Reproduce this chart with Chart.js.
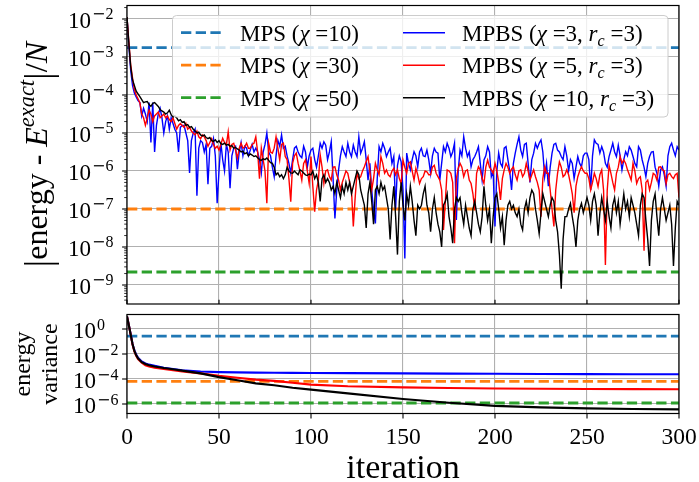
<!DOCTYPE html>
<html>
<head>
<meta charset="utf-8">
<script src="https://cdn.jsdelivr.net/npm/chart.js@4.4.1/dist/chart.umd.min.js"></script>
<style>
  html, body { margin: 0; padding: 0; background: #fff; }
  #wrap { position: relative; width: 699px; height: 482px; }
  #wrap canvas { position: absolute; left: 0; top: 0; }
</style>
</head>
<body>
<div id="wrap">
  <canvas id="errChart" width="699" height="482"></canvas>
  <canvas id="varChart" width="699" height="482"></canvas>
</div>
<script>
// ---- data ----
// top panel: log10 of |energy - E_exact|/N, one value per iteration 0..300
const mpbs3ErrLog = [
  -1.95, -2.7, -3.35, -3.75, -3.95, -4.05, -4.15, -4.2, -4.55, -4.35,
  -4.5, -4.7, -4.2, -5.25, -4.2, -5.5, -4.8, -4.5, -4.35, -4.6,
  -5.0, -4.7, -4.55, -4.9, -4.6, -4.75, -4.9, -5.0, -5.5, -4.85,
  -4.8, -4.8, -5.0, -5.2, -6.05, -5.2, -5.0, -4.9, -6.65, -5.4,
  -5.2, -5.25, -5.5, -5.3, -6.35, -5.4, -5.35, -5.15, -5.6, -6.85,
  -6.0, -5.25, -5.7, -6.0, -5.3, -5.5, -6.45, -5.6, -5.4, -5.35,
  -5.95, -5.5, -5.25, -5.6, -5.35, -5.4, -5.6, -5.45, -5.3, -5.5,
  -5.4, -5.5, -5.7, -6.05, -5.5, -5.3, -5.0, -5.5, -5.6, -5.9,
  -6.15, -5.6, -5.2, -5.35, -5.05, -5.4, -5.35, -5.6, -5.8, -6.05,
  -5.7, -5.4, -5.35, -5.5, -5.6, -5.65, -5.35, -5.5, -5.9, -5.6,
  -5.45, -5.4, -5.7, -5.9, -5.6, -5.27, -5.4, -5.23, -5.32, -5.7,
  -5.5, -5.23, -6.2, -7.25, -6.5, -5.97, -5.6, -5.36, -5.5, -5.62,
  -5.27, -5.5, -5.62, -5.32, -5.5, -5.62, -5.1, -5.53, -5.4, -5.23,
  -5.7, -6.24, -5.8, -6.5, -7.03, -7.38, -6.2, -5.36, -5.5, -5.27,
  -5.4, -5.62, -5.5, -5.4, -5.8, -5.62, -7.0, -5.85, -5.6, -5.76,
  -6.5, -8.3, -5.53, -5.8, -5.97, -5.7, -5.49, -5.6, -5.89, -5.5,
  -5.4, -5.6, -5.62, -5.45, -5.7, -6.06, -5.6, -5.4, -5.5, -5.53,
  -6.24, -5.8, -5.36, -5.5, -5.27, -5.4, -5.62, -5.5, -5.27, -7.29,
  -6.0, -5.45, -5.6, -5.1, -5.4, -5.62, -5.5, -5.89, -5.7, -5.62,
  -5.5, -5.36, -5.8, -6.24, -5.71, -5.6, -5.36, -5.5, -6.15, -6.0,
  -7.46, -6.0, -5.53, -5.8, -5.89, -5.4, -5.36, -5.7, -6.0, -6.5,
  -5.8, -5.53, -5.3, -5.1, -5.45, -5.62, -5.3, -5.27, -5.8, -6.3,
  -5.7, -5.53, -5.27, -5.4, -5.27, -5.18, -5.5, -6.15, -5.8, -6.4,
  -5.9, -5.53, -5.3, -5.27, -5.45, -5.5, -5.62, -5.7, -5.36, -5.6,
  -6.0, -5.7, -5.8, -6.2, -5.9, -5.62, -5.8, -5.89, -5.6, -5.53,
  -5.53, -5.7, -6.5, -5.6, -5.18, -5.27, -5.3, -5.53, -5.36, -5.5,
  -5.8, -5.9, -5.62, -5.45, -5.27, -5.5, -5.62, -5.32, -5.6, -5.97,
  -5.7, -5.49, -5.6, -5.36, -5.45, -5.62, -5.8, -5.89, -5.36, -5.45,
  -5.71, -5.9, -6.15, -5.8, -5.62, -5.5, -5.49, -5.9, -6.06, -6.4,
  -5.97, -5.89, -6.1, -6.4, -5.6, -5.36, -5.27, -5.45, -5.6, -5.36,
  -5.45
];
const mpbs5ErrLog = [
  -1.95, -2.6, -3.2, -3.55, -3.85, -4.0, -4.1, -4.2, -4.5, -4.6,
  -4.8, -4.6, -4.4, -4.5, -4.7, -4.55, -4.5, -4.45, -4.6, -4.55,
  -4.5, -4.6, -4.55, -4.65, -4.7, -4.6, -4.75, -4.9, -4.8, -4.75,
  -4.8, -4.85, -4.75, -4.9, -4.85, -4.95, -5.0, -5.05, -4.95, -5.1,
  -5.15, -5.05, -5.1, -5.2, -5.35, -5.25, -5.15, -5.3, -5.4, -5.35,
  -5.45, -5.3, -5.14, -5.25, -5.32, -4.97, -5.45, -5.3, -5.27, -5.45,
  -5.66, -5.4, -5.27, -5.4, -5.36, -5.27, -5.4, -5.4, -5.3, -5.27,
  -5.1, -5.5, -6.2, -5.4, -5.7, -6.0, -6.85, -5.27, -5.5, -5.53,
  -5.4, -5.1, -5.4, -5.71, -5.3, -5.27, -5.62, -5.7, -6.2, -6.81,
  -5.8, -5.6, -5.53, -5.8, -6.0, -6.24, -5.8, -5.71, -6.0, -6.33,
  -5.62, -6.41, -7.07, -6.5, -6.24, -5.58, -5.9, -6.33, -6.0, -5.97,
  -6.15, -6.24, -5.9, -5.89, -6.1, -6.24, -6.5, -6.3, -6.15, -6.0,
  -6.06, -6.3, -6.5, -7.46, -6.7, -6.06, -6.2, -6.15, -6.0, -5.89,
  -5.75, -5.62, -6.0, -6.5, -6.2, -5.8, -5.97, -6.1, -5.62, -5.8,
  -6.06, -5.97, -6.1, -6.15, -6.0, -5.93, -6.1, -5.97, -6.2, -6.33,
  -5.71, -5.9, -6.06, -5.8, -5.76, -6.0, -6.24, -5.93, -6.1, -6.33,
  -6.2, -6.15, -6.0, -6.02, -6.1, -6.1, -5.9, -5.85, -6.06, -6.15,
  -6.24, -6.5, -7.55, -6.8, -5.97, -6.0, -6.06, -6.3, -7.9, -6.2,
  -5.93, -5.8, -5.9, -6.15, -6.0, -5.97, -6.24, -6.33, -6.6, -7.03,
  -6.06, -5.89, -5.97, -6.2, -6.33, -5.9, -5.71, -5.9, -5.97, -6.06,
  -5.8, -6.0, -6.3, -6.76, -6.2, -5.97, -5.8, -5.9, -6.06, -5.95,
  -5.89, -6.1, -6.24, -6.0, -5.97, -6.15, -6.06, -5.8, -6.0, -6.24,
  -6.1, -5.97, -6.15, -6.3, -6.5, -7.2, -6.2, -5.89, -6.06, -6.06,
  -6.5, -7.0, -7.46, -6.5, -6.06, -5.76, -5.9, -6.15, -6.1, -5.97,
  -6.1, -6.33, -6.6, -7.1, -6.4, -6.15, -6.0, -5.89, -6.0, -6.06,
  -6.06, -6.2, -6.5, -6.3, -6.06, -6.2, -6.41, -6.1, -5.97, -6.5,
  -8.47, -6.5, -5.85, -6.06, -6.3, -6.5, -6.06, -5.9, -5.62, -5.8,
  -5.71, -5.8, -5.97, -6.1, -6.24, -5.8, -6.0, -6.33, -6.2, -6.15,
  -6.5, -8.1, -6.3, -6.24, -6.5, -6.3, -6.06, -6.1, -6.24, -5.9,
  -5.89, -5.97, -6.0, -6.33, -6.1, -6.06, -6.15, -6.2, -6.1, -6.06,
  -6.7
];
const mpbs10ErrLog = [
  -1.95, -2.63, -3.25, -3.6, -3.75, -3.9, -3.97, -4.04, -4.12, -4.2,
  -4.18, -4.17, -4.25, -4.3, -4.22, -4.2, -4.25, -4.3, -4.38, -4.42,
  -4.45, -4.5, -4.47, -4.4, -4.52, -4.58, -4.55, -4.6, -4.68, -4.65,
  -4.72, -4.7, -4.8, -4.78, -4.85, -4.83, -4.9, -4.95, -5.0, -4.98,
  -5.05, -5.08, -5.05, -5.12, -5.15, -5.12, -5.2, -5.22, -5.18, -5.25,
  -5.2, -5.28, -5.3, -5.27, -5.32, -5.3, -5.35, -5.33, -5.4, -5.38,
  -5.42, -5.45, -5.5, -5.48, -5.55, -5.52, -5.6, -5.55, -5.58, -5.62,
  -5.6, -5.65, -5.7, -5.72, -5.68, -5.7, -5.66, -5.72, -5.78, -5.8,
  -5.9, -6.1, -6.05, -6.15, -6.1, -6.2, -6.1, -5.9, -6.0, -6.05,
  -6.06, -6.0, -6.05, -6.1, -5.97, -6.0, -6.05, -6.1, -6.12, -6.08,
  -6.1, -6.0, -6.2, -6.1, -6.3, -6.8, -6.2, -6.1, -6.3, -6.2,
  -6.3, -6.5, -6.4, -6.6, -6.3, -6.5, -6.7, -6.4, -6.6, -6.3,
  -6.5, -6.3, -6.6, -6.4, -6.2, -6.0, -6.1, -6.5, -6.7, -6.9,
  -7.5, -6.6, -6.3, -6.8, -7.4, -6.5, -6.4, -6.6, -6.3, -6.5,
  -6.4, -6.7, -7.0, -7.8, -6.9, -6.4, -7.2, -8.2, -6.8, -6.3,
  -6.9, -7.3, -6.6, -6.9, -6.4, -6.8, -7.3, -7.7, -6.9, -7.0,
  -6.9, -6.6, -6.4, -6.9, -7.1, -7.6, -7.0, -6.7, -7.1, -7.4,
  -7.6, -8.0, -6.9, -6.8, -6.6, -7.2, -7.5, -7.9, -7.0, -6.7,
  -6.8, -6.7, -7.1, -7.4, -6.9, -7.2, -7.5, -7.7, -7.0, -6.8,
  -7.1, -7.4, -7.6, -7.2, -6.4, -6.9, -7.3, -7.0, -7.9, -7.2,
  -6.7, -6.6, -7.0, -7.5, -7.2, -7.95, -7.3, -6.9, -6.8, -7.0,
  -6.9, -7.1, -7.2, -7.0, -7.4, -7.55, -7.0, -6.8, -7.1, -6.7,
  -6.5, -6.6, -7.0, -7.3, -7.65, -7.1, -6.6, -6.8, -7.0, -7.2,
  -6.9, -6.7, -6.8, -7.3, -7.6, -8.2, -9.1, -7.8, -7.2, -7.2,
  -7.0, -6.85, -7.2, -7.5, -8.0, -7.3, -7.0, -6.85, -7.1, -6.9,
  -6.7, -6.9, -7.3, -6.8, -6.6, -6.9, -7.7, -7.1, -6.7, -7.0,
  -7.3, -6.8, -7.2, -7.5, -6.9, -6.7, -7.1, -6.8, -7.4, -7.0,
  -6.6, -7.0, -6.8, -7.2, -6.7, -6.9, -7.1, -7.4, -7.7, -6.9,
  -6.6, -6.7, -7.3, -7.8, -8.5, -7.3, -6.8, -6.6, -7.2, -7.7,
  -7.0, -6.7, -7.0, -7.3, -7.1, -6.9, -7.4, -8.5, -7.5, -6.8,
  -6.9
];
// MPS reference levels (constant over iterations)
const mpsChis = [10, 30, 50];
const mpsErr = [1.76e-3, 1.0e-7, 2.2e-9];
const mpsVar = [0.27, 6.5e-5, 1.2e-6];

// bottom panel: log10 of energy variance at sampled iterations
const varIters = [0, 1, 2, 3, 4, 5, 6, 8, 10, 12, 15, 20, 25, 30, 40, 50, 60, 70, 80, 90, 100, 120, 150, 175, 200, 225, 250, 275, 300];
const mpbs3VarLog = [1.0, 0.3, -0.4, -1.2, -1.7, -2.05, -2.3, -2.6, -2.75, -2.85, -2.95, -3.1, -3.2, -3.3, -3.4, -3.45, -3.47, -3.49, -3.5, -3.51, -3.52, -3.53, -3.55, -3.57, -3.58, -3.6, -3.61, -3.62, -3.62];
const mpbs5VarLog = [1.0, 0.3, -0.45, -1.25, -1.8, -2.15, -2.4, -2.7, -2.9, -3.0, -3.1, -3.2, -3.3, -3.4, -3.55, -3.75, -3.9, -4.05, -4.15, -4.3, -4.45, -4.58, -4.67, -4.72, -4.76, -4.78, -4.8, -4.81, -4.82];
const mpbs10VarLog = [1.0, 0.3, -0.45, -1.2, -1.75, -2.1, -2.35, -2.65, -2.8, -2.9, -3.0, -3.12, -3.22, -3.33, -3.55, -3.85, -4.1, -4.35, -4.5, -4.7, -4.85, -5.15, -5.6, -5.9, -6.15, -6.27, -6.35, -6.4, -6.43];

const mpbsLabels = ['MPBS (χ =3, r_c =3)', 'MPBS (χ =5, r_c =3)', 'MPBS (χ =10, r_c =3)'];
const mpbsColors = ['#0000ff', '#ff0000', '#000000'];
const mpsColors = ['#1f77b4', '#ff7f0e', '#2ca02c'];
const xTicks = [0, 50, 100, 150, 200, 250, 300];

// ---- helpers ----
const SERIF = "'Liberation Serif', 'DejaVu Serif', serif";
const GRID = '#b0b0b0';
const DASH = [10.3, 4.4];

const isDecade = (v) => Math.abs(Math.log10(v) - Math.round(Math.log10(v))) < 1e-6;
const toPoints = (logs) => logs.map((e, i) => ({ x: i, y: 10 ** e }));
const toVarPoints = (logs) => logs.map((e, i) => ({ x: varIters[i], y: 10 ** e }));
const flat = (v) => [{ x: 0, y: v }, { x: 300, y: v }];

function logTicks(lo, hi, step, minors) {
  const out = [];
  for (let p = lo; p <= hi; p += step) {
    out.push({ value: 10 ** p });
    if (minors) for (let m = 2; m <= 9; m++) out.push({ value: m * 10 ** p });
  }
  return out;
}

// "10" ends at tenRight, exponent follows as superscript (wide TeX-like minus)
function drawPow(ctx, exp, tenRight, yb) {
  ctx.textAlign = 'right';
  ctx.font = `23px ${SERIF}`;
  ctx.fillText('10', tenRight, yb);
  ctx.textAlign = 'left';
  let sx = tenRight + 1;
  const sy = yb - 8.5;
  if (exp < 0) {
    ctx.font = "16px 'DejaVu Serif', serif";
    ctx.fillText('\u2212', sx, sy);
    sx += ctx.measureText('\u2212').width;
  }
  ctx.font = `16px ${SERIF}`;
  ctx.fillText(String(Math.abs(exp)), sx, sy);
}

// rich text: χ and r italic, "_c" as subscript
function richParts(label) {
  const parts = [];
  label.split(/(χ|r_c)/).forEach((s) => {
    if (!s) return;
    if (s === 'χ') parts.push({ t: 'χ', it: true });
    else if (s === 'r_c') { parts.push({ t: 'r', it: true }); parts.push({ t: 'c', it: true, sub: true }); }
    else parts.push({ t: s });
  });
  return parts;
}

function partFont(p, size) {
  const fs = (p.sub || p.sup ? size * 0.7 : size) * (p.scale || 1);
  return `${p.it ? 'italic ' : ''}${fs}px ${SERIF}`;
}

function drawRich(ctx, parts, x, y, size) {
  let cx = x;
  parts.forEach((p) => {
    ctx.font = partFont(p, size);
    const dy = (p.sub ? size * 0.22 : p.sup ? -size * 0.42 : 0) + (p.dy || 0);
    ctx.fillText(p.t, cx, y + dy);
    cx += ctx.measureText(p.t).width;
  });
  return cx - x;
}

function richWidth(ctx, parts, size) {
  let w = 0;
  parts.forEach((p) => {
    ctx.font = partFont(p, size);
    w += ctx.measureText(p.t).width;
  });
  return w;
}

// frame, tick marks, tick labels and axis titles in matplotlib style
const axisDecor = {
  id: 'axisDecor',
  afterDatasetsDraw(chart, args, opts) {
    const { ctx, chartArea: a } = chart;
    const { x, y } = chart.scales;
    ctx.save();
    ctx.strokeStyle = '#000';
    ctx.fillStyle = '#000';

    // y tick marks (outward)
    y.ticks.forEach((t) => {
      const py = y.getPixelForValue(t.value);
      const major = isDecade(t.value);
      ctx.lineWidth = major ? 1.1 : 0.8;
      const len = major ? 4.9 : 2.8;
      ctx.beginPath();
      ctx.moveTo(a.left - len, py);
      ctx.lineTo(a.left, py);
      ctx.stroke();
      if (major) {
        ctx.textBaseline = 'alphabetic';
        drawPow(ctx, Math.round(Math.log10(t.value)), opts.tenRight, py + 9);
      }
    });

    // x tick marks
    ctx.lineWidth = 1.1;
    xTicks.forEach((v) => {
      const px = x.getPixelForValue(v);
      ctx.beginPath();
      if (opts.xLabels) {
        ctx.moveTo(px, a.bottom);
        ctx.lineTo(px, a.bottom + 4.9);
      } else {
        ctx.moveTo(px, a.bottom);
        ctx.lineTo(px, a.bottom - 4.2);
      }
      ctx.stroke();
      if (opts.xLabels) {
        ctx.font = `23.5px ${SERIF}`;
        ctx.textAlign = 'center';
        ctx.textBaseline = 'alphabetic';
        ctx.fillText(String(v), px, a.bottom + 30.5);
      }
    });

    // frame
    ctx.lineWidth = 1.2;
    ctx.strokeRect(a.left, a.top, a.right - a.left, a.bottom - a.top);

    if (opts.xLabels) {
      ctx.font = `34px ${SERIF}`;
      ctx.textAlign = 'center';
      ctx.fillText('iteration', (a.left + a.right) / 2, 478);
    }

    // y axis titles
    if (opts.yTitle === 'err') {
      const size = 32;
      const parts = [
        { t: '|', scale: 1.2, dy: 4 }, { t: 'energy - ' }, { t: 'E', it: true },
        { t: 'exact', it: true, sup: true }, { t: '|', scale: 1.2, dy: 4 }, { t: '/' }, { t: 'N', it: true },
      ];
      const w = richWidth(ctx, parts, size);
      ctx.save();
      ctx.translate(47, (a.top + a.bottom) / 2);
      ctx.rotate(-Math.PI / 2);
      ctx.textAlign = 'left';
      drawRich(ctx, parts, -w / 2, 0, size);
      ctx.restore();
    } else if (opts.yTitle === 'var') {
      ctx.save();
      ctx.translate(0, (a.top + a.bottom) / 2);
      ctx.rotate(-Math.PI / 2);
      ctx.font = `24px ${SERIF}`;
      ctx.textAlign = 'center';
      ctx.fillText('energy', 0, 30);
      ctx.fillText('variance', 0, 57);
      ctx.restore();
    }
    ctx.restore();
  },
  afterDraw(chart, args, opts) {
    if (!opts.legend) return;
    const { ctx } = chart;
    const box = { l: 172.5, t: 15.5, r: 668, b: 117 };
    ctx.save();
    ctx.beginPath();
    ctx.roundRect(box.l, box.t, box.r - box.l, box.b - box.t, 4);
    ctx.fillStyle = 'rgba(255,255,255,0.8)';
    ctx.fill();
    ctx.strokeStyle = '#cccccc';
    ctx.lineWidth = 1;
    ctx.stroke();

    const items = chart.data.datasets.slice().sort((p, q) => p.legendIndex - q.legendIndex);
    items.forEach((ds, k) => {
      const col = Math.floor(k / 3);
      const row = k % 3;
      const lx = box.l + 8.5 + col * 222;
      const ly = box.t + 17.2 + row * 32.5;
      ctx.strokeStyle = ds.borderColor;
      ctx.lineWidth = ds.borderDash ? 2.78 : 1.4;
      ctx.setLineDash(ds.borderDash || []);
      ctx.beginPath();
      ctx.moveTo(lx, ly);
      ctx.lineTo(lx + 42, ly);
      ctx.stroke();
      ctx.setLineDash([]);
      ctx.fillStyle = '#000';
      ctx.textAlign = 'left';
      ctx.textBaseline = 'alphabetic';
      drawRich(ctx, richParts(ds.label), lx + 59, ly + 8, 23);
    });
    ctx.restore();
  },
};

Chart.register(axisDecor);

function mpbsSet(label, color, points, width, order, legendIndex) {
  return {
    label, data: points, borderColor: color, backgroundColor: color,
    borderWidth: width, pointRadius: 0, tension: 0, fill: false, order, legendIndex,
  };
}

function mpsSet(k, value) {
  return {
    label: `MPS (χ =${mpsChis[k]})`, data: flat(value), borderColor: mpsColors[k],
    backgroundColor: mpsColors[k], borderWidth: 2.78, borderDash: DASH, pointRadius: 0,
    fill: false, order: 10 + k, legendIndex: k,
  };
}

function baseScales(yMinExp, yMaxExp, yTickList, xHeight) {
  return {
    x: {
      type: 'linear', min: 0, max: 300,
      afterBuildTicks: (s) => { s.ticks = xTicks.map((v) => ({ value: v })); },
      afterFit: (s) => { s.height = xHeight; },
      ticks: { display: false },
      grid: { drawTicks: false, color: GRID, lineWidth: 1.1 },
      border: { display: false },
    },
    y: {
      type: 'logarithmic', min: 10 ** yMinExp, max: 10 ** yMaxExp,
      afterBuildTicks: (s) => { s.ticks = yTickList.filter((t) => t.value >= s.min && t.value <= s.max); },
      afterFit: (s) => { s.width = 127; },
      ticks: { display: false },
      grid: {
        drawTicks: false, lineWidth: 1.1,
        color: (c) => (c.tick && isDecade(c.tick.value) ? GRID : 'rgba(0,0,0,0)'),
      },
      border: { display: false },
    },
  };
}

const common = {
  responsive: false,
  animation: false,
  events: [],
  plugins: { legend: { display: false }, tooltip: { enabled: false } },
};

new Chart(document.getElementById('errChart'), {
  type: 'line',
  data: {
    datasets: [
      mpbsSet(mpbsLabels[2], mpbsColors[2], toPoints(mpbs10ErrLog), 1.4, 0, 5),
      mpbsSet(mpbsLabels[1], mpbsColors[1], toPoints(mpbs5ErrLog), 1.4, 1, 4),
      mpbsSet(mpbsLabels[0], mpbsColors[0], toPoints(mpbs3ErrLog), 1.4, 2, 3),
      mpsSet(0, mpsErr[0]),
      mpsSet(1, mpsErr[1]),
      mpsSet(2, mpsErr[2]),
    ],
  },
  options: {
    ...common,
    layout: { padding: { top: 5.5, right: 20, bottom: 178, left: 0 } },
    scales: baseScales(-9.5, -1.645, logTicks(-10, -2, 1, true), 0),
    plugins: { ...common.plugins, axisDecor: { yTitle: 'err', legend: true, xLabels: false, tenRight: 91 } },
  },
});

new Chart(document.getElementById('varChart'), {
  type: 'line',
  data: {
    datasets: [
      mpbsSet(mpbsLabels[2], mpbsColors[2], toVarPoints(mpbs10VarLog), 2.1, 0, 5),
      mpbsSet(mpbsLabels[1], mpbsColors[1], toVarPoints(mpbs5VarLog), 2.1, 1, 4),
      mpbsSet(mpbsLabels[0], mpbsColors[0], toVarPoints(mpbs3VarLog), 2.1, 2, 3),
      mpsSet(0, mpsVar[0]),
      mpsSet(1, mpsVar[1]),
      mpsSet(2, mpsVar[2]),
    ],
  },
  options: {
    ...common,
    layout: { padding: { top: 314.5, right: 20, bottom: 0, left: 0 } },
    scales: baseScales(-6.76, 1.16, logTicks(-6, 0, 2, false), 68.5),
    plugins: { ...common.plugins, axisDecor: { yTitle: 'var', legend: false, xLabels: true, tenRight: 96 } },
  },
});
</script>
</body>
</html>
